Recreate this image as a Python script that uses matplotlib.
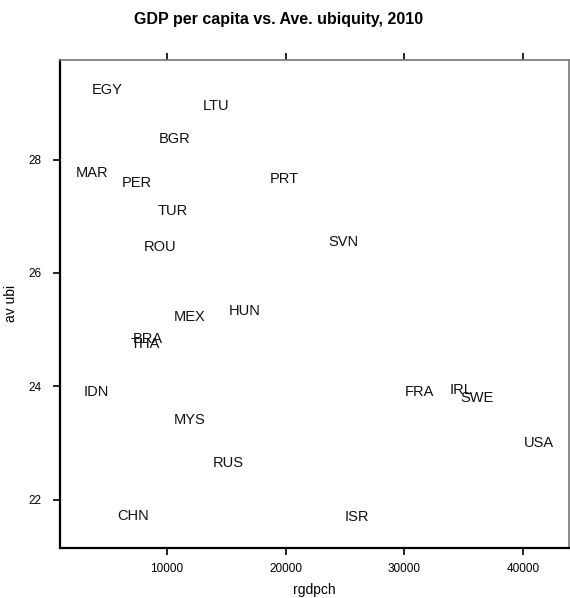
import matplotlib.pyplot as plt

plt.rcParams['font.family'] = ['Liberation Sans', 'DejaVu Sans']

# country codes and values
codes = ['EGY', 'LTU', 'BGR', 'MAR', 'PER', 'PRT', 'TUR', 'ROU', 'SVN', 'MEX',
         'HUN', 'BRA', 'THA', 'IDN', 'MYS', 'RUS', 'CHN', 'FRA', 'IRL', 'SWE',
         'USA', 'ISR']
rgdpch = [4950, 14130, 10670, 3680, 7470, 19860, 10500, 9410, 24910, 11940,
          16570, 8400, 8150, 4020, 11940, 15140, 7140, 31310, 34770, 36120,
          41340, 26010]
av_ubi = [29.23, 28.95, 28.37, 27.77, 27.59, 27.66, 27.10, 26.45, 26.55, 25.23,
          25.32, 24.84, 24.74, 23.89, 23.40, 22.64, 21.71, 23.89, 23.93, 23.79,
          23.00, 21.70]

xticks = [10000, 20000, 30000, 40000]
yticks = [22, 24, 26, 28]

fig = plt.figure(figsize=(5.7, 5.98), dpi=100)
ax = fig.add_axes([0.105, 0.084, 0.893, 0.816])

for c, x, y in zip(codes, rgdpch, av_ubi):
    ax.text(x, y, c, ha='center', va='center', fontsize=10.5, color='#111111')

ax.set_xlim(990, 43870)
ax.set_ylim(21.15, 29.76)
ax.set_xticks(xticks)
ax.set_yticks(yticks)
ax.tick_params(axis='both', direction='out', length=5, labelsize=8.5, width=1.2)
ax.tick_params(axis='x', top=True, pad=6)
ax.tick_params(axis='y', pad=8)

for s in ['left', 'bottom']:
    ax.spines[s].set_color('black')
    ax.spines[s].set_linewidth(1.6)
for s in ['top', 'right']:
    ax.spines[s].set_color('#777777')
    ax.spines[s].set_linewidth(1.2)

ax.set_xlabel('rgdpch', fontsize=10, labelpad=6)
ax.set_ylabel('av ubi', fontsize=10, labelpad=8)
fig.suptitle('GDP per capita vs. Ave. ubiquity, 2010', fontsize=11.5,
             fontweight='bold', x=0.488, y=0.98)

fig.savefig('out.png', dpi=100)
